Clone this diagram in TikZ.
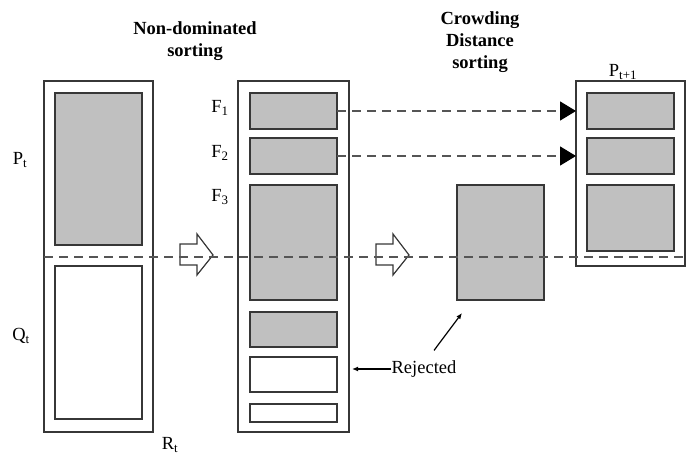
\documentclass[tikz,border=0pt]{standalone}
\usepackage{fontspec}
\setmainfont{Liberation Serif}
\usetikzlibrary{positioning, arrows.meta}
\definecolor{boxgray}{RGB}{192,192,192}
\definecolor{edge}{RGB}{55,55,55}
\definecolor{dashgray}{RGB}{85,85,85}

\begin{document}
\begin{tikzpicture}[
    x=1pt, y=-1pt,
    font=\fontsize{18.5}{22}\selectfont,
    frame/.style={rectangle, draw=edge, line width=1.3pt, anchor=north west, inner sep=0pt, outer sep=0pt},
    slot/.style={frame, minimum width=87pt},
    front/.style={slot, fill=boxgray},
    block/.style={draw=edge, line width=1.2pt, fill=white},
    dashline/.style={draw=dashgray, line width=1.5pt, dash pattern=on 9pt off 6pt},
    dasharrow/.style={dashline, -{Triangle[length=16pt,width=19pt,color=black]}},
    thinarrow/.style={draw=black, line width=1.2pt, -{Latex[length=6pt,width=5pt]}},
    lbl/.style={inner sep=0pt},
    title/.style={align=center, font=\fontsize{18.5}{22}\selectfont\bfseries}
]
\useasboundingbox (0,0) rectangle (690,457);

% Combined population R_t
\node[frame, minimum width=109pt, minimum height=351pt] (rt) at (44,81) {};
\node[front, minimum height=152pt] (pt) at (55,93) {};
\node[slot, minimum height=153pt] (qt) at (55,266) {};

% Fronts after non-dominated sorting
\node[frame, minimum width=111pt, minimum height=351pt] (mid) at (238,81) {};
\node[front, minimum height=36pt] (f1) at (250,93) {};
\node[front, minimum height=36pt, below=9pt of f1] (f2) {};
\node[front, minimum height=115pt, below=11pt of f2] (f3) {};
\node[front, minimum height=35pt, below=12pt of f3] (f4) {};
\node[slot, minimum height=35pt, below=10pt of f4] (f5) {};
\node[slot, minimum height=18pt, below=12pt of f5] (f6) {};

% Crowding distance sorting
\node[front, minimum height=115pt] (crowd) at (457,185) {};

% New population P_{t+1}
\node[frame, minimum width=109pt, minimum height=185pt] (next) at (576,81) {};
\node[front, minimum height=36pt] (n1) at (587,93) {};
\node[front, minimum height=36pt, below=9pt of n1] (n2) {};
\node[front, minimum height=66pt, below=11pt of n2] (n3) {};

% Block arrows
\foreach \bx in {180,376}
  \draw[block] (\bx,244) -- ++(17,0) -- ++(0,-10) -- ++(16,21) -- ++(-16,20) -- ++(0,-10) -- ++(-17,0) -- cycle;

% Cut line
\coordinate (cutL) at (44,257);
\coordinate (cutR) at (688,257);
\draw[dashline] (cutL) -- (cutR);

% Arrows
\draw[dasharrow] (f1.east) -- (f1.east -| next.west);
\draw[dasharrow] (f2.east) -- (f2.east -| next.west);

\node[lbl] (rej) at (424,369) {Rejected};
\draw[thinarrow, shorten >=3pt] (rej.west) -- (rej.west -| mid.east);
\draw[thinarrow] ([xshift=10pt,yshift=10pt]rej.north) -- ([xshift=5pt,yshift=-13pt]crowd.south west);

% Labels
\node[lbl] (lpt) at (20,160) {P\textsubscript{t}};
\node[lbl] (lqt) at (21,336) {Q\textsubscript{t}};
\node[lbl] (lrt) at (170,445) {R\textsubscript{t}};
\node[lbl] (lf1) at (220,108) {F\textsubscript{1}};
\node[lbl] (lf2) at (220,153) {F\textsubscript{2}};
\node[lbl] (lf3) at (220,197) {F\textsubscript{3}};
\node[lbl] (lnext) at (623,72) {P\textsubscript{t+1}};
\node[title] (nds) at (195,41) {Non-dominated\\sorting};
\node[title] (cds) at (480,42) {Crowding\\Distance\\sorting};

\end{tikzpicture}
\end{document}
